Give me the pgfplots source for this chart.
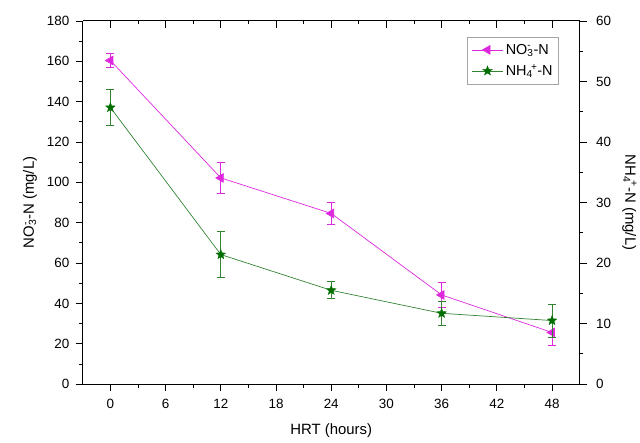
\documentclass[border=0pt]{standalone}
\usepackage{pgfplots}
\pgfplotsset{compat=1.18}
\usepackage{fontspec}
\setmainfont{Liberation Sans}
\definecolor{mag}{RGB}{222,40,222}
\definecolor{grn}{RGB}{50,130,50}
\definecolor{grnm}{RGB}{0,110,0}
\newcommand{\supsub}[2]{\rlap{\textsuperscript{#1}}\textsubscript{#2}}
\pgfdeclareplotmark{fstar}{%
  \pgfpathmoveto{\pgfpointpolar{90}{\pgfplotmarksize}}%
  \pgfpathlineto{\pgfpointpolar{126}{0.42\pgfplotmarksize}}%
  \pgfpathlineto{\pgfpointpolar{162}{\pgfplotmarksize}}%
  \pgfpathlineto{\pgfpointpolar{198}{0.42\pgfplotmarksize}}%
  \pgfpathlineto{\pgfpointpolar{234}{\pgfplotmarksize}}%
  \pgfpathlineto{\pgfpointpolar{270}{0.42\pgfplotmarksize}}%
  \pgfpathlineto{\pgfpointpolar{306}{\pgfplotmarksize}}%
  \pgfpathlineto{\pgfpointpolar{342}{0.42\pgfplotmarksize}}%
  \pgfpathlineto{\pgfpointpolar{18}{\pgfplotmarksize}}%
  \pgfpathlineto{\pgfpointpolar{54}{0.42\pgfplotmarksize}}%
  \pgfpathclose
  \pgfusepathqfillstroke
}
\pgfplotsset{base/.style={
  scale only axis, width=498bp, height=364bp,
  xmin=-3, xmax=51,
  tick label style={font=\fontsize{13.5}{15}\selectfont},
  label style={font=\fontsize{15}{17}\selectfont},
  /pgf/number format/assume math mode=true,
  major tick length=7bp, minor tick length=3.5bp,
  tick style={black, line width=0.8pt},
  axis line style={line width=0.9pt},
  clip=false,
  legend image code/.code={\draw[mark repeat=2,mark phase=2] plot coordinates {(0bp,0bp) (16bp,0bp) (32bp,0bp)};},
}}
\begin{document}
\begin{tikzpicture}
\begin{axis}[base,
  axis x line*=bottom, axis y line*=left,
  ymin=0, ymax=180, ytick={0,20,...,180}, minor y tick num=1,
  xtick={0,6,...,48}, minor x tick num=1, tick align=outside,
  xticklabel style={yshift=-5bp},
  yticklabel style={xshift=-3bp},
  xlabel={HRT (hours)},
  ylabel={NO\supsub{-}{3}-N (mg/L)},
  xlabel style={at={(axis description cs:0.5,-0.129)}, anchor=center},
  ylabel style={at={(axis description cs:-0.1064,0.5)}, anchor=center},
]
\coordinate (bl) at (rel axis cs:0,0);
\coordinate (tr) at (rel axis cs:1,1);
\addplot[mag, line width=0.7pt, mark=triangle*, mark size=5bp,
  mark options={rotate=90, fill=mag, draw=mag},
  error bars/.cd, y dir=both, y explicit,
  error bar style={mag, line width=0.7pt},
  error mark options={rotate=90, mag, mark size=4bp, line width=0.7pt}]
  table[x=x, y=y, y error=e] {
x y e
0 160.4 3.3
12 102.2 7.5
24 84.6 5.5
36 44.2 6
48 25.6 6.3
};
\end{axis}
\begin{axis}[base,
  axis x line=none, axis y line*=right,
  ymin=0, ymax=60, ytick={0,10,...,60}, minor y tick num=1, tick align=outside,
  yticklabel style={xshift=6bp},
  ylabel={NH\textsubscript{4}\kern-0.12em\textsuperscript{+}-N (mg/L)},
  ylabel style={at={(axis description cs:1.1004,0.5)}, anchor=center, rotate=180},
  legend style={at={(0.958,0.956)}, anchor=north east, draw=gray!70,
    font=\fontsize{14.5}{16}\selectfont, row sep=5bp, inner xsep=4bp, inner ysep=5bp},
  legend cell align=left,
]
\addlegendimage{mag, line width=0.7pt, mark=triangle*, mark size=5bp,
  mark options={rotate=90, fill=mag, draw=mag}}
\addlegendentry{NO\supsub{-}{3}-N}
\addplot[grn, line width=0.7pt, mark=fstar, mark size=5bp,
  mark options={fill=grnm, draw=grnm, line width=0.4pt},
  error bars/.cd, y dir=both, y explicit,
  error bar style={grn, line width=0.7pt},
  error mark options={rotate=90, grn, mark size=4bp, line width=0.7pt}]
  table[x=x, y=y, y error=e] {
x y e
0 45.7 3
12 21.4 3.8
24 15.5 1.4
36 11.7 2
48 10.5 2.7
};
\addlegendentry{NH\textsubscript{4}\kern-0.12em\textsuperscript{+}-N}
\end{axis}
\begin{axis}[base,
  axis x line*=top, axis y line=none,
  ymin=0, ymax=1,
  xtick={0,6,...,48}, minor x tick num=1, tick align=inside,
  xticklabels={},
]
\end{axis}
\path (bl) ++(-83bp,-59bp);
\path (tr) ++(59bp,21bp);
\end{tikzpicture}
\end{document}
